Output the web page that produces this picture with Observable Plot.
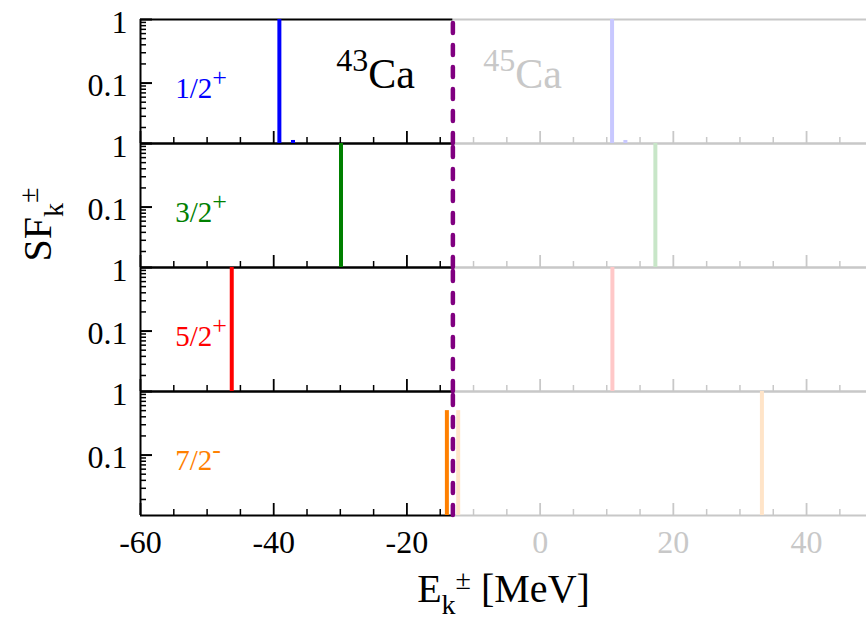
<!DOCTYPE html>
<html><head><meta charset="utf-8">
<script src="https://cdn.jsdelivr.net/npm/d3@7"></script>
<script src="https://cdn.jsdelivr.net/npm/@observablehq/plot@0.6"></script>
<style>body{margin:0;background:#fff}</style>
</head><body><div id="chart"></div>
<script>
// ---- data ----
const panels = ["1/2+", "3/2+", "5/2+", "7/2-"];
const panelLabels = ["1/2^{+}", "3/2^{+}", "5/2^{+}", "7/2^{-}"];
const panelColors = ["#0000ff", "#008000", "#ff0000", "#ff8000"];
const panelLightColors = ["#c8c8ff", "#c8e6c8", "#ffc8c8", "#ffe4c8"];

// 43Ca (removal, E < eF)
const ca43Panel = ["1/2+", "1/2+", "3/2+", "5/2+", "7/2-"];
const ca43E = [-39.15, -37.1, -29.9, -46.3, -14.0];
const ca43SF = [1, 0.0125, 1, 1, 0.5];

// 45Ca (addition, E > eF) - drawn faded
const ca45Panel = ["1/2+", "1/2+", "3/2+", "5/2+", "7/2-", "7/2-"];
const ca45E = [10.8, 12.8, 17.3, 10.85, -12.3, 33.3];
const ca45SF = [1, 0.0125, 1, 1, 0.5, 1];

const fermiEnergy = -13.1;

const isotopeNames = ["^{43}Ca", "^{45}Ca"];
const isotopeX = [-30.6, -8.55];
const isotopeColors = ["#000000", "#c8c8c8"];

const xTicks = [-60, -40, -20, 0, 20, 40];
const xTickLabels = ["-60", "-40", "-20", "0", "20", "40"];
const xMinorTicks = [-55, -50, -45, -35, -30, -25, -15, -10, -5, 5, 10, 15, 25, 30, 35, 45];
const yTicks = [1, 0.1];
const yTickLabels = ["1", "0.1"];
const yMinorTicks = [0.02, 0.03, 0.04, 0.05, 0.06, 0.07, 0.08, 0.09, 0.2, 0.3, 0.4, 0.5, 0.6, 0.7, 0.8, 0.9];
const xLabel = "E_{k}^{±} [MeV]";
const yLabel = "SF_{k}^{±}";
const xDomain = [-60, 49];
const yDomain = [0.0112, 1];

// ---- tables ----
const bars43 = ca43E.map((e, i) => ({E: e, sf: ca43SF[i], panel: ca43Panel[i], color: panelColors[panels.indexOf(ca43Panel[i])]}));
const bars45 = ca45E.map((e, i) => ({E: e, sf: ca45SF[i], panel: ca45Panel[i], color: panelLightColors[panels.indexOf(ca45Panel[i])]}));
const frameRows = panels.flatMap(p => yDomain.map(y => ({panel: p, y})));

const FONT = "'Liberation Serif', 'Times New Roman', serif";
const GREY = "#c8c8c8";
const isLeft = v => v < fermiEnergy;

const chart = Plot.plot({
  width: 866,
  height: 620,
  marginTop: 17,
  marginBottom: 104,
  marginLeft: 140,
  marginRight: 0,
  style: {fontFamily: FONT, background: "#fff", overflow: "visible"},
  x: {domain: xDomain},
  y: {type: "log", domain: yDomain},
  fy: {domain: panels, padding: 0, axis: null},
  color: {type: "identity"},
  marks: [
    // frame: grey part (right of eF), black part (left of eF)
    Plot.ruleY(frameRows, {fy: "panel", y: "y", x1: fermiEnergy, x2: xDomain[1], stroke: GREY, strokeWidth: 2}),
    Plot.ruleY(frameRows, {fy: "panel", y: "y", x1: xDomain[0], x2: fermiEnergy, stroke: "black", strokeWidth: 2}),
    Plot.ruleX(panels, {fy: d => d, x: xDomain[0], y1: yDomain[0], y2: yDomain[1], stroke: "black", strokeWidth: 2}),
    // x ticks (inward) in every panel
    Plot.axisX({ticks: xTicks.filter(isLeft), anchor: "bottom", tickSize: -12, fill: "none", label: null, facetAnchor: null, stroke: "black", strokeWidth: 1.8}),
    Plot.axisX({ticks: xMinorTicks.filter(isLeft), anchor: "bottom", tickSize: -6, fill: "none", label: null, facetAnchor: null, stroke: "black", strokeWidth: 1.5}),
    Plot.axisX({ticks: xTicks.filter(v => !isLeft(v)), anchor: "bottom", tickSize: -12, fill: "none", label: null, facetAnchor: null, stroke: GREY, strokeWidth: 1.8}),
    Plot.axisX({ticks: xMinorTicks.filter(v => !isLeft(v)), anchor: "bottom", tickSize: -6, fill: "none", label: null, facetAnchor: null, stroke: GREY, strokeWidth: 1.5}),
    // y ticks (inward)
    Plot.axisY({ticks: yTicks, anchor: "left", tickSize: -12, fill: "none", label: null, stroke: "black", strokeWidth: 2}),
    Plot.axisY({ticks: yMinorTicks, anchor: "left", tickSize: -6, fill: "none", label: null, stroke: "black", strokeWidth: 1.5}),
    Plot.axisY({ticks: yTicks, anchor: "left", tickSize: 0, tickPadding: 13, label: null, tickFormat: d => yTickLabels[yTicks.indexOf(d)], fontSize: 32, fontFamily: FONT, fill: "black", dy: 3}),
    // spectroscopic factor bars
    Plot.ruleX(bars45, {fy: "panel", x: "E", y1: yDomain[0], y2: "sf", stroke: "color", strokeWidth: 4}),
    Plot.ruleX(bars43, {fy: "panel", x: "E", y1: yDomain[0], y2: "sf", stroke: "color", strokeWidth: 4}),
    // Fermi energy
    Plot.ruleX(panels, {fy: d => d, x: fermiEnergy, y1: yDomain[0], y2: yDomain[1], stroke: "#800080", strokeWidth: 4.5, strokeDasharray: "10,12", strokeLinecap: "round"}),
    // panel labels
    Plot.text(panels, {fy: d => d, x: -54.8, y: 0.1, dy: 15, text: (d, i) => panelLabels[i], fill: (d, i) => panelColors[i], textAnchor: "start", lineAnchor: "bottom", fontSize: 29, fontFamily: FONT}),
    // isotope labels
    Plot.text(isotopeNames, {fy: () => panels[0], x: (d, i) => isotopeX[i], y: 0.1, dy: 5, text: d => d, fill: (d, i) => isotopeColors[i], textAnchor: "start", lineAnchor: "bottom", fontSize: 42, fontFamily: FONT}),
    // x tick labels
    Plot.text(xTicks, {fy: () => panels[3], x: d => d, y: yDomain[0], dy: 37, text: (d, i) => xTickLabels[i], fill: d => isLeft(d) ? "#000000" : GREY, textAnchor: "middle", lineAnchor: "bottom", fontSize: 32, fontFamily: FONT}),
    // axis labels
    Plot.text([xLabel], {fy: () => panels[3], frameAnchor: "bottom", dy: 86.5, text: d => d, textAnchor: "middle", lineAnchor: "bottom", fontSize: 40, fontFamily: FONT, fill: "black"}),
    Plot.text([yLabel], {fy: () => panels[1], frameAnchor: "bottom-left", dx: -90, dy: -6, rotate: -90, text: d => d, textAnchor: "start", lineAnchor: "bottom", fontSize: 40, fontFamily: FONT, fill: "black"})
  ]
});

// convert ^{..} and _{..} markup into tspans
const richStyles = {29: {sup: 26, raise: 12}, 42: {sup: 32, raise: 17}, 40: {sup: 28, raise: 13, sub: 28, drop: 12}};
function baseSize(el) {
  let n = el;
  while (n && n.getAttribute) {
    const fs = n.getAttribute("font-size");
    if (fs) return parseFloat(fs);
    n = n.parentNode;
  }
  return 10;
}
d3.select(chart).selectAll("text").each(function () {
  const s = this.textContent;
  if (!/[\^_]\{/.test(s)) return;
  const st = richStyles[Math.round(baseSize(this))] || {sup: 20, raise: 10, sub: 20, drop: 8};
  this.textContent = "";
  let offset = 0;
  for (const m of s.matchAll(/([\^_])\{([^}]*)\}|([^\^_]+)/g)) {
    let target = 0, text, size = null;
    if (m[1] === "^") { target = -st.raise; text = m[2]; size = st.sup; }
    else if (m[1] === "_") { target = st.drop; text = m[2]; size = st.sub; }
    else { text = m[3]; }
    const t = document.createElementNS("http://www.w3.org/2000/svg", "tspan");
    const dy = target - offset;
    if (dy) t.setAttribute("dy", dy);
    if (size) t.setAttribute("font-size", size);
    t.textContent = text;
    this.appendChild(t);
    offset = target;
  }
});

document.getElementById("chart").appendChild(chart);
</script>
</body></html>
